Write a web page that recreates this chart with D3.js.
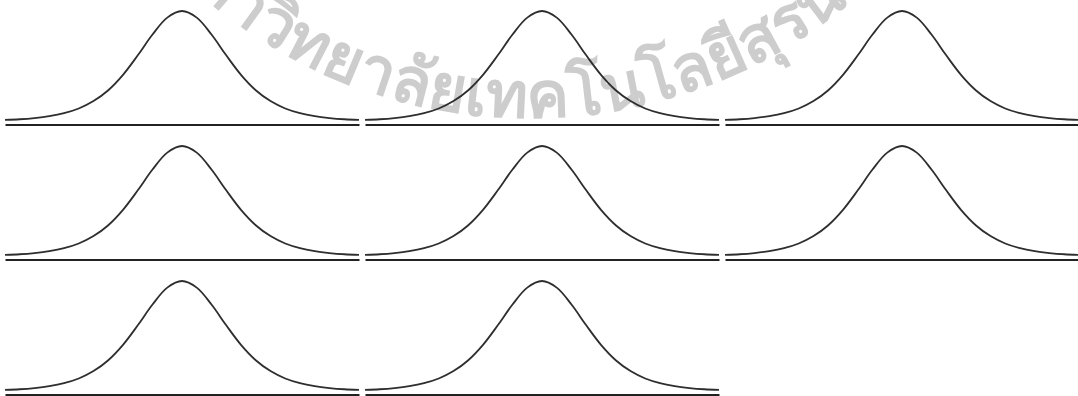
<!DOCTYPE html>
<html>
<head>
<meta charset="utf-8">
<script src="https://cdn.jsdelivr.net/npm/d3@7"></script>
<style>
  html, body { margin: 0; padding: 0; background: #ffffff; }
  svg { display: block; }
</style>
</head>
<body>
<svg id="chart" width="1078" height="396"></svg>
<script>
// Eight identical bell-shaped density panels laid out three per row.
const panelIds = [1, 2, 3, 4, 5, 6, 7, 8];

// Sample points of the density curve (standardised x, relative height).
const xValues = [-6, -5.5, -5, -4.5, -4, -3.5, -3, -2.5, -2, -1.5, -1, -0.5,
                 0, 0.5, 1, 1.5, 2, 2.5, 3, 3.5, 4, 4.5, 5, 5.5, 6];
const densityValues = [0.010, 0.016, 0.027, 0.044, 0.071, 0.114, 0.181, 0.280, 0.420, 0.597, 0.786, 0.940,
                       1.000, 0.940, 0.786, 0.597, 0.420, 0.280, 0.181, 0.114, 0.071, 0.044, 0.027, 0.016, 0.010];

const watermarkText = "มหาวิทยาลัยเทคโนโลยีสุรนารี";

const svg = d3.select("#chart");

const cols = 3;
const panelW = 354, colStep = 360, left0 = 5;
const rowStep = 135, zero0 = 121, peakH = 110, baseGap = 3.5;

const x = d3.scaleLinear().domain([-6, 6]).range([0, panelW]);
const y = d3.scaleLinear().domain([0, 1]).range([0, -peakH]);

const points = xValues.map((v, i) => [v, densityValues[i]]);
const line = d3.line()
  .x(d => x(d[0]))
  .y(d => y(d[1]))
  .curve(d3.curveCatmullRom.alpha(0.5));

// watermark: seal lettering on the lower arc of a large circle
const defs = svg.append("defs");
const cx = 530, cyc = -382, r = 500;
const a0 = Math.PI * 0.5 + 0.9, a1 = Math.PI * 0.5 - 0.9;
defs.append("path")
  .attr("id", "sealArc")
  .attr("d", `M ${cx + r * Math.cos(a0)} ${cyc + r * Math.sin(a0)} A ${r} ${r} 0 0 0 ${cx + r * Math.cos(a1)} ${cyc + r * Math.sin(a1)}`);

svg.append("text")
  .attr("font-family", "'Noto Sans', 'DejaVu Sans', sans-serif")
  .attr("font-size", 64)
  .attr("font-weight", "bold")
  .attr("fill", "#cdcdcd")
  .append("textPath")
  .attr("href", "#sealArc")
  .attr("startOffset", "50%")
  .attr("text-anchor", "middle")
  .text(watermarkText);

const panels = svg.selectAll("g.panel")
  .data(panelIds)
  .join("g")
  .attr("class", "panel")
  .attr("transform", (d, i) => `translate(${left0 + (i % cols) * colStep},${zero0 + Math.floor(i / cols) * rowStep})`);

// baseline drawn as a bare bottom axis
panels.append("g")
  .attr("transform", `translate(0,${baseGap})`)
  .call(d3.axisBottom(x).ticks(0).tickSizeOuter(0))
  .call(g => g.select(".domain").attr("stroke", "#222").attr("stroke-width", 2));

panels.append("path")
  .datum(points)
  .attr("d", line)
  .attr("fill", "none")
  .attr("stroke", "#2e2e2e")
  .attr("stroke-width", 1.8);
</script>
</body>
</html>
